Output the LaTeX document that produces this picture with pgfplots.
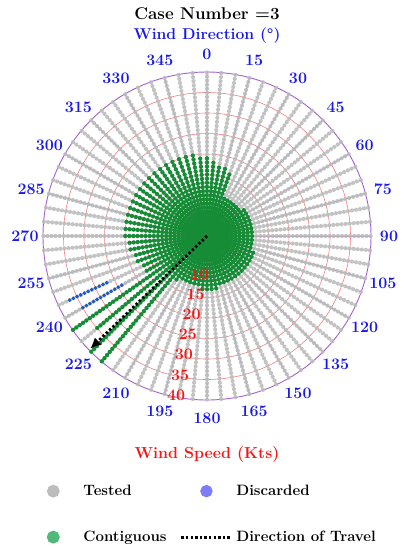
\documentclass[border=0pt]{standalone}
\usepackage{pgfplots}
\pgfplotsset{compat=1.18}
\usepgfplotslibrary{polar}
\usetikzlibrary{arrows.meta}

\definecolor{tested}{RGB}{188,188,188}
\definecolor{discarded}{RGB}{25,85,205}
\definecolor{discardedkey}{RGB}{125,125,245}
\definecolor{contig}{RGB}{22,140,55}
\definecolor{contigkey}{RGB}{80,185,120}
\definecolor{spoke}{RGB}{115,115,195}
\definecolor{ring}{RGB}{255,125,125}
\definecolor{rim}{RGB}{165,95,215}
\definecolor{dirblue}{RGB}{25,25,235}
\definecolor{speedred}{RGB}{250,20,20}

\newcommand\ttl[1]{\fontsize{#1}{#1}\selectfont\bfseries}

\begin{document}
\begin{tikzpicture}
\begin{polaraxis}[
  scale only axis, width=328pt, height=328pt,
  xmin=0, xmax=360, ymin=0, ymax=40,
  xtick={0,15,...,345}, xticklabels={},
  ytick={5,10,...,35}, yticklabels={},
  major tick length=0pt,
  grid=major,
  x grid style={spoke, line width=0.9pt},
  y grid style={ring, line width=0.6pt},
  axis line style={rim, line width=0.9pt},
  clip=false,
  unbounded coords=jump,
  % wind direction: 0 at the top, clockwise
  x filter/.expression={mod(450-x,360)},
  legend columns=2,
  legend style={at={(-0.052,-0.25)}, anchor=north west, draw=none, fill=none,
    font=\ttl{15}, row sep=28pt, inner sep=0pt,
    nodes={inner sep=3pt}, cells={anchor=west},
    /tikz/every even column/.append style={column sep=10pt}},
]
\coordinate (c) at (axis cs:0,0);

% tested: every 5 deg, 0..40 kts in 1 kt steps
\addplot[tested, opacity=0.9, line width=4.2pt, line cap=round, dash pattern=on 0pt off 4.09pt,
  legend image code/.code={\path (0pt,0pt) (50pt,0pt); \fill[tested,solid,opacity=1] (25pt,0pt) circle (4.2pt);}]
coordinates {
(0,0)(0,40)(0,nan) (5,0)(5,40)(5,nan) (10,0)(10,40)(10,nan) (15,0)(15,40)(15,nan)
(20,0)(20,40)(20,nan) (25,0)(25,40)(25,nan) (30,0)(30,40)(30,nan) (35,0)(35,40)(35,nan)
(40,0)(40,40)(40,nan) (45,0)(45,40)(45,nan) (50,0)(50,40)(50,nan) (55,0)(55,40)(55,nan)
(60,0)(60,40)(60,nan) (65,0)(65,40)(65,nan) (70,0)(70,40)(70,nan) (75,0)(75,40)(75,nan)
(80,0)(80,40)(80,nan) (85,0)(85,40)(85,nan) (90,0)(90,40)(90,nan) (95,0)(95,40)(95,nan)
(100,0)(100,40)(100,nan) (105,0)(105,40)(105,nan) (110,0)(110,40)(110,nan) (115,0)(115,40)(115,nan)
(120,0)(120,40)(120,nan) (125,0)(125,40)(125,nan) (130,0)(130,40)(130,nan) (135,0)(135,40)(135,nan)
(140,0)(140,40)(140,nan) (145,0)(145,40)(145,nan) (150,0)(150,40)(150,nan) (155,0)(155,40)(155,nan)
(160,0)(160,40)(160,nan) (165,0)(165,40)(165,nan) (170,0)(170,40)(170,nan) (175,0)(175,40)(175,nan)
(180,0)(180,40)(180,nan) (185,0)(185,40)(185,nan) (190,0)(190,40)(190,nan) (195,0)(195,40)(195,nan)
(200,0)(200,40)(200,nan) (205,0)(205,40)(205,nan) (210,0)(210,40)(210,nan) (215,0)(215,40)(215,nan)
(220,0)(220,40)(220,nan) (225,0)(225,40)(225,nan) (230,0)(230,40)(230,nan) (235,0)(235,40)(235,nan)
(240,0)(240,40)(240,nan) (245,0)(245,40)(245,nan) (250,0)(250,40)(250,nan) (255,0)(255,40)(255,nan)
(260,0)(260,40)(260,nan) (265,0)(265,40)(265,nan) (270,0)(270,40)(270,nan) (275,0)(275,40)(275,nan)
(280,0)(280,40)(280,nan) (285,0)(285,40)(285,nan) (290,0)(290,40)(290,nan) (295,0)(295,40)(295,nan)
(300,0)(300,40)(300,nan) (305,0)(305,40)(305,nan) (310,0)(310,40)(310,nan) (315,0)(315,40)(315,nan)
(320,0)(320,40)(320,nan) (325,0)(325,40)(325,nan) (330,0)(330,40)(330,nan) (335,0)(335,40)(335,nan)
(340,0)(340,40)(340,nan) (345,0)(345,40)(345,nan) (350,0)(350,40)(350,nan) (355,0)(355,40)(355,nan)
};
\addlegendentry{Tested}

% the 5 kt label lies under the contiguous points
\node[font=\ttl{16}, text=speedred, shift={(259:-2.05pt)}] at (axis cs:259,5) {5};

\addplot[discarded, line width=3.8pt, line cap=round, dash pattern=on 0pt off 4.09pt,
  legend image code/.code={\path (0pt,0pt) (50pt,0pt); \fill[discardedkey,solid] (25pt,0pt) circle (4.2pt);}]
coordinates {
(240,24)(240,35)(240,nan) (245,27)(245,37)
};
\addlegendentry{Discarded}

\addplot[contig, line width=4.3pt, line cap=round, dash pattern=on 0pt off 4.09pt,
  legend image code/.code={\path (0pt,0pt) (50pt,0pt); \fill[contigkey,solid] (25pt,0pt) circle (4.2pt);}]
coordinates {
(0,0)(0,19)(0,nan) (5,0)(5,18)(5,nan) (10,0)(10,17)(10,nan) (15,0)(15,17)(15,nan)
(20,0)(20,16)(20,nan) (25,0)(25,10)(25,nan) (30,0)(30,10)(30,nan) (35,0)(35,10)(35,nan)
(40,0)(40,10)(40,nan) (45,0)(45,10)(45,nan) (50,0)(50,10)(50,nan) (55,0)(55,11)(55,nan)
(60,0)(60,11)(60,nan) (65,0)(65,11)(65,nan) (70,0)(70,11)(70,nan) (75,0)(75,11)(75,nan)
(80,0)(80,11)(80,nan) (85,0)(85,11)(85,nan) (90,0)(90,11)(90,nan) (95,0)(95,11)(95,nan)
(100,0)(100,11)(100,nan) (105,0)(105,11)(105,nan) (110,0)(110,12)(110,nan) (115,0)(115,12)(115,nan)
(120,0)(120,12)(120,nan) (125,0)(125,12)(125,nan) (130,0)(130,12)(130,nan) (135,0)(135,12)(135,nan)
(140,0)(140,12)(140,nan) (145,0)(145,12)(145,nan) (150,0)(150,12)(150,nan) (155,0)(155,12)(155,nan)
(160,0)(160,12)(160,nan) (165,0)(165,12)(165,nan) (170,0)(170,13)(170,nan) (175,0)(175,13)(175,nan)
(180,0)(180,13)(180,nan) (185,0)(185,13)(185,nan) (190,0)(190,12)(190,nan) (195,0)(195,12)(195,nan)
(200,0)(200,12)(200,nan) (205,0)(205,12)(205,nan) (210,0)(210,12)(210,nan) (215,0)(215,13)(215,nan)
(220,0)(220,40)(220,nan) (225,0)(225,40)(225,nan) (230,0)(230,35)(230,nan) (235,0)(235,40)(235,nan)
(240,0)(240,17)(240,nan) (245,0)(245,17)(245,nan) (250,0)(250,18)(250,nan) (255,0)(255,18)(255,nan)
(260,0)(260,19)(260,nan) (265,0)(265,19)(265,nan) (270,0)(270,20)(270,nan) (275,0)(275,20)(275,nan)
(280,0)(280,20)(280,nan) (285,0)(285,20)(285,nan) (290,0)(290,20)(290,nan) (295,0)(295,20)(295,nan)
(300,0)(300,20)(300,nan) (305,0)(305,20)(305,nan) (310,0)(310,20)(310,nan) (315,0)(315,20)(315,nan)
(320,0)(320,20)(320,nan) (325,0)(325,20)(325,nan) (330,0)(330,20)(330,nan) (335,0)(335,20)(335,nan)
(340,0)(340,20)(340,nan) (345,0)(345,20)(345,nan) (350,0)(350,20)(350,nan) (355,0)(355,19)(355,nan)
};
\addlegendentry{Contiguous}

% speed labels along 191 deg
\pgfplotsinvokeforeach{10,15,...,40}{
  \node[font=\ttl{16}, text=speedred, shift={(259:-2.05pt)}] at (axis cs:259,#1) {#1};
}

\addplot[black, line width=2.8pt, dash pattern=on 2.4pt off 2.2pt, -{Latex[length=11pt,width=10pt]},
  legend image code/.code={\draw[-,black,line width=2.8pt,dash pattern=on 2.4pt off 2.2pt] (0pt,0pt) -- (50pt,0pt);}]
coordinates {(0,0)(226,39.6)};
\addlegendentry{Direction of Travel}
\end{polaraxis}

\foreach \d in {0,15,...,345}
  \node[font=\ttl{16}, text=dirblue] at ([shift={({90-\d}:182pt)}]c) {\d};

\node[font=\ttl{17}, text=black] at ([yshift=222pt]c) {Case Number =3};
\node[font=\ttl{15.7}, text=dirblue] at ([yshift=200pt]c) {Wind Direction (°)};
\node[font=\ttl{16}, text=speedred] at ([yshift=-219pt]c) {Wind Speed (Kts)};
\path ([shift={(-207pt,236pt)}]c) rectangle ([shift={(197pt,-314pt)}]c);
\end{tikzpicture}
\end{document}
